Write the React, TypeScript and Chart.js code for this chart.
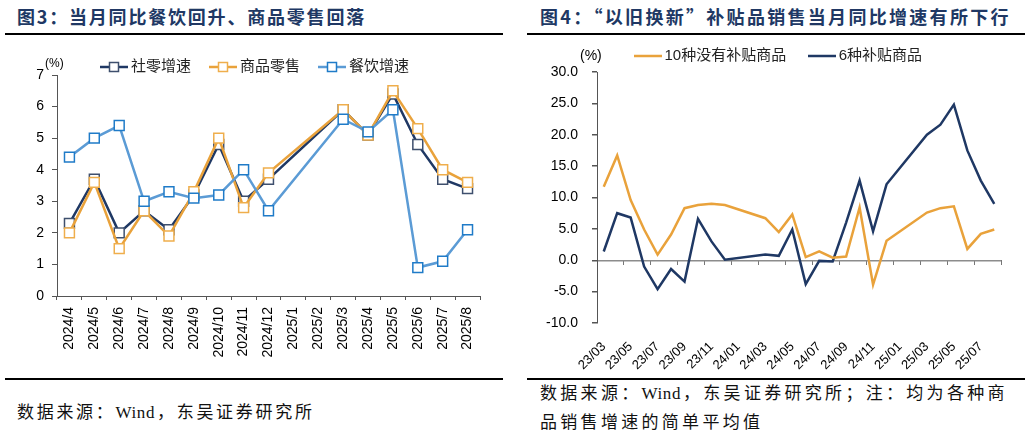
import { Chart, registerables } from "chart.js";
import { useEffect, useRef } from "react";

Chart.register(...registerables);
Chart.defaults.font.family = "'Liberation Sans', 'Noto Sans CJK SC', sans-serif";
Chart.defaults.color = "#000";

// 图3 data
const retailMonths = [
  "2024/4", "2024/5", "2024/6", "2024/7", "2024/8", "2024/9", "2024/10", "2024/11", "2024/12",
  "2025/1", "2025/2", "2025/3", "2025/4", "2025/5", "2025/6", "2025/7", "2025/8",
];
const totalRetail = [2.3, 3.7, 2.0, 2.7, 2.1, 3.2, 4.8, 3.0, 3.7, null, null, 5.9, 5.1, 6.4, 4.8, 3.7, 3.4];
const goodsRetail = [2.0, 3.6, 1.5, 2.7, 1.9, 3.3, 5.0, 2.8, 3.9, null, null, 5.9, 5.1, 6.5, 5.3, 4.0, 3.6];
const catering = [4.4, 5.0, 5.4, 3.0, 3.3, 3.1, 3.2, 4.0, 2.7, null, null, 5.6, 5.2, 5.9, 0.9, 1.1, 2.1];

// 图4 data
const subsidyMonths = [
  "23/03", "23/04", "23/05", "23/06", "23/07", "23/08", "23/09", "23/10", "23/11", "23/12",
  "24/01", "24/02", "24/03", "24/04", "24/05", "24/06", "24/07", "24/08", "24/09", "24/10",
  "24/11", "24/12", "25/01", "25/02", "25/03", "25/04", "25/05", "25/06", "25/07", "25/08",
];
const noSubsidy = [
  11.7, 16.7, 9.6, 4.9, 0.9, 4.1, 8.3, 8.8, 9.0, 8.8, null, null, 6.7, 4.5, 7.3,
  0.5, 1.4, 0.4, 0.6, 8.4, -3.9, 3.1, null, null, 7.6, 8.3, 8.6, 1.8, 4.2, 4.9,
];
const withSubsidy = [
  1.4, 7.5, 6.8, -1.0, -4.6, -1.4, -3.4, 6.6, 3.0, 0.1, null, null, 0.9, 0.7, 4.9,
  -3.8, -0.1, -0.2, 6.0, 12.7, 4.6, 12.1, null, null, 20.0, 21.6, 24.8, 17.5, 12.7, 9.0,
];

const NAVY = "#1f3864";
const ORANGE = "#e9a23b";
const BLUE = "#5b9bd5";
const AXIS = "#555";

// legend swatch: a short line, optionally with a hollow square in the middle
function makeIcon(line: string, marker?: string) {
  const c = document.createElement("canvas");
  c.width = 28;
  c.height = 12;
  const g = c.getContext("2d");
  if (g) {
    g.strokeStyle = line;
    g.lineWidth = 2.5;
    g.beginPath();
    g.moveTo(0, 6);
    g.lineTo(28, 6);
    g.stroke();
    if (marker) {
      g.fillStyle = "#fff";
      g.fillRect(9.5, 1.5, 9, 9);
      g.strokeStyle = marker;
      g.lineWidth = 1.5;
      g.strokeRect(9.5, 1.5, 9, 9);
    }
  }
  return c;
}

function legendLabels(icons: HTMLCanvasElement[]) {
  return (chart: Chart) =>
    Chart.defaults.plugins.legend.labels
      .generateLabels(chart)
      .map((item: any) => ({ ...item, pointStyle: icons[item.datasetIndex] }));
}

function RetailChart() {
  const canvasRef = useRef<HTMLCanvasElement>(null);

  useEffect(() => {
    if (!canvasRef.current) return;
    const icons = [makeIcon(NAVY, "#3e4f6d"), makeIcon(ORANGE, "#efae4c"), makeIcon(BLUE, "#1f7bc8")];
    const series = (label: string, data: (number | null)[], color: string, marker: string, order: number) => ({
      label,
      data,
      borderColor: color,
      backgroundColor: color,
      borderWidth: 2.5,
      pointStyle: "rect",
      pointRadius: 7,
      pointBorderWidth: 1.5,
      pointBorderColor: marker,
      pointBackgroundColor: "#fff",
      spanGaps: true,
      order,
    });

    const chart = new Chart(canvasRef.current, {
      type: "line",
      data: {
        labels: retailMonths,
        datasets: [
          series("社零增速", totalRetail, NAVY, "#3e4f6d", 3),
          series("商品零售", goodsRetail, ORANGE, "#efae4c", 2),
          series("餐饮增速", catering, BLUE, "#1f7bc8", 1),
        ],
      },
      options: {
        animation: false,
        responsive: true,
        maintainAspectRatio: false,
        layout: { padding: { left: 33.5, right: 35, top: 1, bottom: 0 } },
        plugins: {
          tooltip: { enabled: false },
          legend: {
            maxHeight: 38,
            labels: {
              usePointStyle: true,
              pointStyleWidth: 19,
              padding: 22.5,
              color: "#222",
              font: { size: 15 },
              sort: (a: any, b: any) => a.datasetIndex - b.datasetIndex,
              generateLabels: legendLabels(icons),
            },
          },
        },
        scales: {
          x: {
            offset: true,
            grid: { display: true, drawOnChartArea: false, offset: true, tickLength: 4, color: AXIS },
            border: { color: AXIS },
            ticks: { autoSkip: false, minRotation: 90, maxRotation: 90, padding: 7, font: { size: 14 } },
            afterFit: (s: any) => {
              s.height = 65;
            },
          },
          y: {
            min: 0,
            max: 7,
            ticks: { stepSize: 1, padding: 8, font: { size: 14 } },
            grid: { drawOnChartArea: false, tickLength: 5, color: AXIS },
            border: { color: AXIS },
            afterFit: (s: any) => {
              s.width = 23.5;
            },
          },
        },
      } as any,
    });

    return () => chart.destroy();
  }, []);

  return <canvas ref={canvasRef}></canvas>;
}

function SubsidyChart() {
  const canvasRef = useRef<HTMLCanvasElement>(null);

  useEffect(() => {
    if (!canvasRef.current) return;
    const icons = [makeIcon(ORANGE), makeIcon(NAVY)];
    const series = (label: string, data: (number | null)[], color: string) => ({
      label,
      data,
      xAxisID: "x",
      yAxisID: "y",
      borderColor: color,
      backgroundColor: color,
      borderWidth: 2.5,
      pointRadius: 0,
      spanGaps: true,
    });
    const everyOther = (ctx: any) =>
      ctx.index === undefined || ctx.index % 2 === 0 ? "#777" : "rgba(0,0,0,0)";

    const chart = new Chart(canvasRef.current, {
      type: "line",
      data: {
        labels: subsidyMonths,
        datasets: [
          series("10种没有补贴商品", noSubsidy, ORANGE),
          series("6种补贴商品", withSubsidy, NAVY),
        ],
      },
      options: {
        animation: false,
        responsive: true,
        maintainAspectRatio: false,
        layout: { padding: { left: 20, right: 10, top: 1.5, bottom: 0 } },
        plugins: {
          tooltip: { enabled: false },
          legend: {
            maxHeight: 50.5,
            labels: {
              usePointStyle: true,
              pointStyleWidth: 18,
              padding: 27,
              color: "#222",
              font: { size: 15 },
              generateLabels: legendLabels(icons),
            },
          },
        },
        scales: {
          x: {
            position: "bottom",
            offset: true,
            grid: { display: false },
            border: { display: false },
            ticks: {
              autoSkip: false,
              minRotation: 45,
              maxRotation: 45,
              padding: 8,
              font: { size: 13 },
              callback: (_v: any, i: number) => (i % 2 === 0 ? subsidyMonths[i] : ""),
            },
            afterFit: (s: any) => {
              s.height = 52;
            },
          },
          // tick marks sitting on the zero line, one every two months
          xZero: {
            type: "category",
            position: { y: 0 },
            offset: true,
            grid: {
              offset: true,
              drawOnChartArea: false,
              tickLength: 5,
              color: everyOther,
              tickColor: everyOther,
            },
            border: { display: false },
            ticks: { display: false },
          },
          y: {
            min: -10,
            max: 30,
            ticks: {
              stepSize: 5,
              padding: 14,
              font: { size: 14 },
              callback: (v: any) => Number(v).toFixed(1),
            },
            grid: {
              color: (ctx: any) => (ctx.tick && ctx.tick.value === 0 ? "#8c8c8c" : "rgba(0,0,0,0)"),
              lineWidth: 1.5,
              tickColor: AXIS,
              tickLength: 5,
            },
            border: { color: AXIS },
            afterFit: (s: any) => {
              s.width = 57;
            },
          },
          // empty spacer on the right so the legend stays centred over the plot
          yRight: {
            position: "right",
            grid: { display: false },
            border: { display: false },
            ticks: { display: false },
            afterFit: (s: any) => {
              s.width = 20;
            },
          },
        },
      } as any,
    });

    return () => chart.destroy();
  }, []);

  return <canvas ref={canvasRef}></canvas>;
}

const titleStyle: React.CSSProperties = {
  position: "absolute",
  top: 5,
  fontFamily: "'Noto Sans CJK SC', sans-serif",
  fontWeight: 700,
  fontSize: 18,
  lineHeight: "22px",
  letterSpacing: 1.8,
  color: "#203864",
  whiteSpace: "nowrap",
};

const sourceStyle: React.CSSProperties = {
  position: "absolute",
  fontFamily: "'Liberation Serif', 'Noto Sans CJK SC', serif",
  fontSize: 17,
  color: "#111",
  whiteSpace: "nowrap",
};

const latin: React.CSSProperties = { letterSpacing: 0.6, marginRight: 2 };

const rule = (left: number, top: number): React.CSSProperties => ({
  position: "absolute",
  left,
  top,
  width: 498,
  height: 2,
  background: "#000",
});

export default function App() {
  return (
    <div
      style={{
        position: "absolute",
        left: 0,
        top: 0,
        width: 1031,
        height: 443,
        background: "#fff",
        overflow: "hidden",
        fontFamily: "'Liberation Sans', 'Noto Sans CJK SC', sans-serif",
      }}
    >
      <div style={{ ...titleStyle, left: 17 }}>图3：当月同比餐饮回升、商品零售回落</div>
      <div style={{ ...titleStyle, left: 540, letterSpacing: 2.3 }}>图4：“以旧换新”补贴品销售当月同比增速有所下行</div>
      <div style={rule(5, 33)}></div>
      <div style={rule(527, 33)}></div>

      <div style={{ position: "absolute", left: 0, top: 36, width: 515, height: 325 }}>
        <RetailChart />
      </div>
      <div style={{ position: "absolute", left: 45, top: 56, fontSize: 12, color: "#000" }}>(%)</div>

      <div style={{ position: "absolute", left: 520, top: 20, width: 511, height: 355 }}>
        <SubsidyChart />
      </div>
      <div style={{ position: "absolute", left: 580, top: 47, fontSize: 14, color: "#000" }}>(%)</div>

      <div style={rule(5, 378)}></div>
      <div style={rule(527, 378)}></div>

      <div style={{ ...sourceStyle, left: 17, top: 401, lineHeight: "24px", letterSpacing: 2.7 }}>
        数据来源：<span style={latin}>Wind</span>，东吴证券研究所
      </div>
      <div style={{ ...sourceStyle, left: 540, top: 379, lineHeight: "29px", letterSpacing: 3.3 }}>
        数据来源：<span style={latin}>Wind</span>，东吴证券研究所；注：均为各种商
        <br />
        品销售增速的简单平均值
      </div>
    </div>
  );
}
